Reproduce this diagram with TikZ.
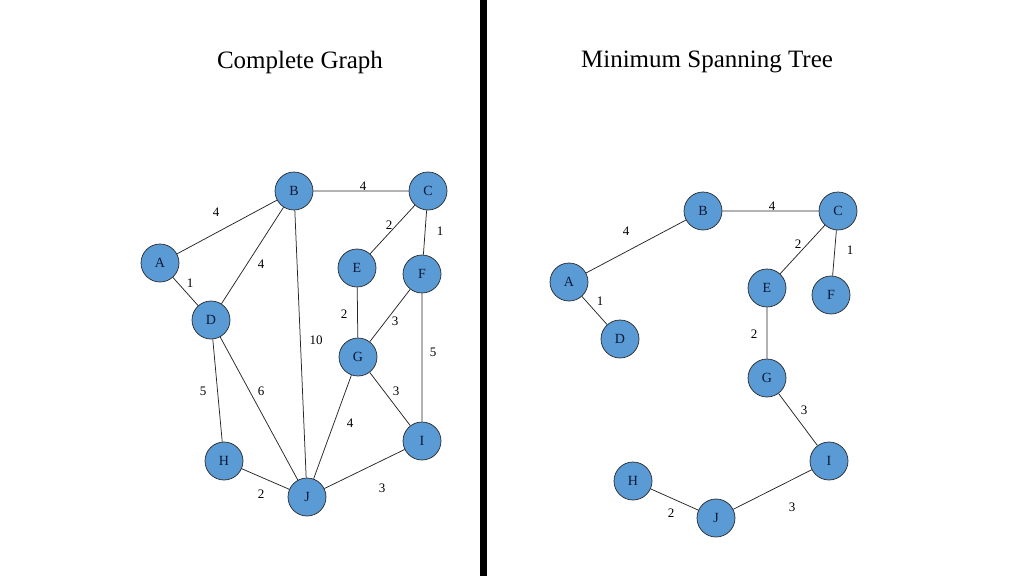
\documentclass[tikz,border=0pt]{standalone}
\usepackage{fontspec}
\setmainfont{Liberation Serif}
\begin{document}
\begin{tikzpicture}[x=1pt,y=-1pt,
  vtx/.style={circle,draw=black!85,line width=0.7pt,fill={rgb,255:red,91;green,155;blue,213},minimum size=38pt,inner sep=0pt,text={rgb,255:red,10;green,25;blue,55},font=\fontsize{14}{14}\selectfont},
  lbl/.style={font=\fontsize{13}{13}\selectfont,inner sep=0pt},
  ttl/.style={font=\fontsize{25}{25}\selectfont,inner sep=0pt},
  edg/.style={draw=black!85,line width=0.75pt}]
\useasboundingbox (0,0) rectangle (1024,576);
\fill[white] (0,0) rectangle (1024,576);
\draw[line width=7pt] (483,0) -- (483,576);
\node[ttl] (t1) at (300,62) {Complete Graph};
\node[ttl] (t2) at (707,62) {Minimum Spanning Tree};
% left graph
\node[vtx] (A) at (160,263) {A};
\node[vtx] (B) at (294,191) {B};
\node[vtx] (C) at (428,191) {C};
\node[vtx] (D) at (211,320) {D};
\node[vtx] (E) at (357,268) {E};
\node[vtx] (F) at (422,274) {F};
\node[vtx] (G) at (358,357) {G};
\node[vtx] (H) at (224,461) {H};
\node[vtx] (I) at (422,441) {I};
\node[vtx] (J) at (307,497) {J};
\draw[edg] (A)--(B) (A)--(D) (B)--(D) (B)--(C) (B)--(J) (C)--(E) (C)--(F)
  (E)--(G) (F)--(G) (F)--(I) (G)--(I) (G)--(J) (D)--(H) (D)--(J) (H)--(J) (J)--(I);
\node[lbl] (lab) at (216,212) {4};
\node[lbl] (lad) at (190,283) {1};
\node[lbl] (lbd) at (261,264) {4};
\node[lbl] (lbc) at (363,186) {4};
\node[lbl] (lbj) at (316,340) {10};
\node[lbl] (lce) at (389,225) {2};
\node[lbl] (lcf) at (440,231) {1};
\node[lbl] (leg) at (344,314) {2};
\node[lbl] (lfg) at (395,321) {3};
\node[lbl] (lfi) at (433,352) {5};
\node[lbl] (lgi) at (396,391) {3};
\node[lbl] (lgj) at (350,423) {4};
\node[lbl] (ldh) at (203,391) {5};
\node[lbl] (ldj) at (261,391) {6};
\node[lbl] (lhj) at (261,494) {2};
\node[lbl] (lji) at (382,488) {3};
% right tree
\node[vtx] (A2) at (569,282) {A};
\node[vtx] (B2) at (703,211) {B};
\node[vtx] (C2) at (838,211) {C};
\node[vtx] (D2) at (620,339) {D};
\node[vtx] (E2) at (767,288) {E};
\node[vtx] (F2) at (831,295) {F};
\node[vtx] (G2) at (767,378) {G};
\node[vtx] (H2) at (633,481) {H};
\node[vtx] (I2) at (829,461) {I};
\node[vtx] (J2) at (716,518) {J};
\draw[edg] (A2)--(B2) (A2)--(D2) (B2)--(C2) (C2)--(E2) (C2)--(F2) (E2)--(G2)
  (G2)--(I2) (H2)--(J2) (J2)--(I2);
\node[lbl] (rab) at (626,231) {4};
\node[lbl] (rad) at (600,301) {1};
\node[lbl] (rbc) at (772,206) {4};
\node[lbl] (rce) at (798,244) {2};
\node[lbl] (rcf) at (850,250) {1};
\node[lbl] (reg) at (754,334) {2};
\node[lbl] (rgi) at (804,410) {3};
\node[lbl] (rhj) at (671,513) {2};
\node[lbl] (rji) at (792,507) {3};
\end{tikzpicture}
\end{document}
